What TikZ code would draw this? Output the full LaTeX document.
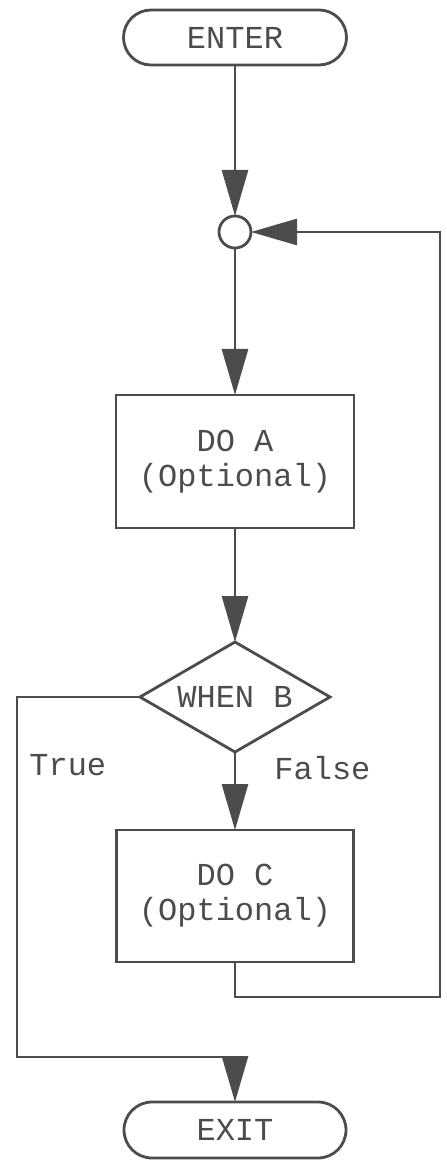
\documentclass[tikz,border=0pt]{standalone}
\usepackage{fontspec}
\setmonofont{Liberation Mono}
\usetikzlibrary{arrows.meta,positioning,shapes.geometric}
\definecolor{ink}{gray}{0.3}

\begin{document}
\begin{tikzpicture}[node distance= 2cm,
    >={Triangle[length=23pt,width=13pt]},
    font=\fontsize{16}{17.5}\selectfont\ttfamily]
      \useasboundingbox (-117.5pt,18.75pt) rectangle (105.5pt,-561.25pt);
      \begin{scope}[every node/.style={draw= ink,line width=1.4pt,text=ink,align=center,inner sep=0pt,outer sep=0pt}]
        \node (Enter) [rounded corners=13.75pt,minimum width=111.5pt,minimum height=27.5pt] {ENTER};
        \node (Join) [circle,minimum size=16pt,below= 75.5pt of Enter] {};
        \node (A) [minimum width=119pt,minimum height=66.5pt,below= 73.5pt of Join] {DO A\\(Optional)};
        \node (B) [diamond,aspect=1.73,minimum width=95pt,minimum height=55pt,below= 57pt of A] {WHEN B};
        \node (C) [minimum width=118.5pt,minimum height=66pt,below= 39pt of B] {DO C\\(Optional)};
        \node (Exit) [rounded corners=14pt,minimum width=111pt,minimum height=28pt,below= 70pt of C] {EXIT};
      \end{scope}
      % side lines of the loop and of the True branch
      \coordinate (L) at (-109pt,0);
      \coordinate (R) at (102.5pt,0);
      \path (C.south) ++(0,-17.5pt) coordinate (CB);
      \path (Exit.north) ++(0,22.5pt) coordinate (TB);
      \begin{scope}
        [every edge/.style={draw= ink,line width=1.4pt},
        every node/.style={text=ink,inner sep=0pt}]
        \path (Enter) edge[->] (Join);
        \path (Join) edge[->] (A);
        \path (A) edge[->] (B);
        \path (B.south) edge[->] node[pos=0.2,anchor=west,xshift=19pt] {False} (C.north);
        \draw[ink,line width=1.4pt,->] (B.west) -- (B.west -| L)
          -- node[pos=0.19,anchor=west,xshift=5.5pt] {True} (L |- TB) -- (TB) -- (Exit);
        \draw[ink,line width=1.4pt,->] (C.south) -- (CB) -| (R |- Join) -- (Join);
      \end{scope}
    \end{tikzpicture}
\end{document}
